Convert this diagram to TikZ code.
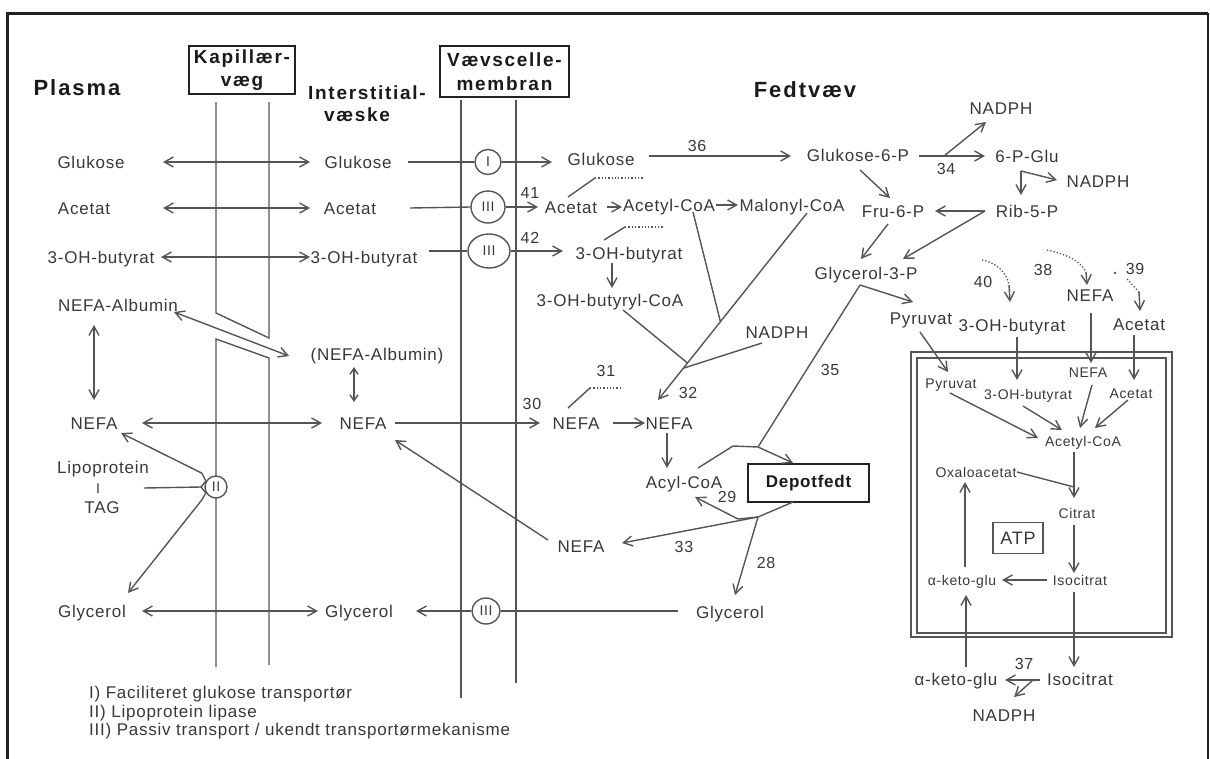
\documentclass[tikz,border=0pt]{standalone}
\usepackage{fontspec}
\setmainfont{Liberation Sans}
\newfontfamily\lblfont{Liberation Sans}[LetterSpace=4.5]
\newfontfamily\headfont{Liberation Sans}[LetterSpace=9]
\usetikzlibrary{arrows.meta,shapes.geometric}
\definecolor{ink}{HTML}{383838}
\definecolor{headink}{HTML}{1A1A1A}
\definecolor{wire}{HTML}{555555}
\definecolor{frame}{HTML}{222222}
\tikzset{
  barb/.tip={Straight Barb[length=9pt,width=10pt]},
  minibarb/.tip={Straight Barb[length=6pt,width=8pt]},
  lbl/.style={font=\lblfont\fontsize{17}{20}\selectfont, text=ink, inner sep=0pt, text height=12.2pt, text depth=0pt},
  inner/.style={font=\lblfont\fontsize{14}{17}\selectfont, text=ink, inner sep=0pt, text height=10pt, text depth=0pt},
  num/.style={font=\lblfont\fontsize{16}{19}\selectfont, text=ink, inner sep=0pt, text height=11.5pt, text depth=0pt},
  legend/.style={font=\lblfont\fontsize{17}{19}\selectfont, text=ink, inner sep=0pt, text height=12.2pt, text depth=0pt, anchor=west},
  head/.style={font=\headfont\bfseries\fontsize{19}{24}\selectfont, text=headink, inner sep=0pt, text height=13.7pt, text depth=0pt},
  bighead/.style={font=\headfont\bfseries\fontsize{22}{26}\selectfont, text=headink, inner sep=0pt, text height=15.8pt, text depth=0pt},
  headbox/.style={draw=frame, line width=1.3pt, font=\headfont\bfseries\fontsize{19}{23.5}\selectfont, text=headink, align=center, inner sep=0pt},
  port/.style={draw=wire, line width=1.4pt, ellipse, fill=white, inner sep=0pt, font=\lblfont\fontsize{14}{16}\selectfont, text=ink},
  wirel/.style={draw=wire, line width=1.4pt},
  arr/.style={wirel, -barb},
  darr/.style={wirel, barb-barb},
  sarr/.style={wirel, minibarb-minibarb},
  hint/.style={draw=wire, line width=1.3pt, dotted},
}
\begin{document}
\begin{tikzpicture}[x=1pt,y=-1pt]
\useasboundingbox (0,0) rectangle (1210,758);
% outer frame, open at the bottom
\draw[line width=3pt, frame] (7,775) -- (7,13) -- (1208,13);
\draw[line width=1.6pt, frame] (1208,13) -- (1208,775);

% capillary wall with its gap, and the cell membrane
\draw[wirel] (216,102) -- (216,313) -- (269,338) -- (269,102);
\draw[wirel] (216,667) -- (216,339) -- (269,358) -- (269,665);
\draw[wirel] (461,100) -- (461,698);
\draw[wirel] (516,100) -- (516,683);

% headings
\node[bighead] (plasma) at (77,88) {Plasma};
\node[headbox, minimum width=106pt, minimum height=48pt] (kap) at (242,70) {Kapillær-\\væg};
\node[head] (inter1) at (367,93) {Interstitial-};
\node[head] (inter2) at (357,115) {væske};
\node[headbox, minimum width=129pt, minimum height=51pt] (vaev) at (504.5,71.5) {Vævscelle-\\membran};
\node[bighead] (fedt) at (805,90) {Fedtvæv};

% plasma
\node[lbl] (pglu) at (91,162) {Glukose};
\node[lbl] (pace) at (84,208) {Acetat};
\node[lbl] (pbut) at (101,257) {3-OH-butyrat};
\node[lbl] (palb) at (118,305) {NEFA-Albumin};
\node[lbl] (pnefa) at (94,423) {NEFA};
\node[lbl] (plipo) at (103,467) {Lipoprotein};
\node[inner] (pbar) at (98,488) {I};
\node[lbl] (ptag) at (102,507) {TAG};
\node[lbl] (pgly) at (92,611) {Glycerol};

% interstitial fluid
\node[lbl] (iglu) at (358,162) {Glukose};
\node[lbl] (iace) at (350,208) {Acetat};
\node[lbl] (ibut) at (364,257) {3-OH-butyrat};
\node[lbl] (ialb) at (377,354) {(NEFA-Albumin)};
\node[lbl] (inefa) at (363,423) {NEFA};
\node[lbl] (igly) at (359,611) {Glycerol};

% transporters
\node[port, minimum width=26pt, minimum height=25pt] (t1) at (488,162) {I};
\node[port, minimum width=34pt, minimum height=32pt] (t2) at (488,207) {III};
\node[port, minimum width=42pt, minimum height=34pt] (t3) at (489,251) {III};
\node[port, minimum width=22pt, minimum height=22pt] (t4) at (216,487) {II};
\node[port, minimum width=28pt, minimum height=26pt] (t5) at (486,611) {III};

% adipose tissue
\node[lbl] (fglu) at (601,159) {Glukose};
\node[lbl] (fg6p) at (858,155) {Glukose-6-P};
\node[lbl] (nadph1) at (1001,108) {NADPH};
\node[lbl] (p6glu) at (1027,156) {6-P-Glu};
\node[lbl] (nadph2) at (1098,181) {NADPH};
\node[lbl] (rib) at (1027,211) {Rib-5-P};
\node[lbl] (fru) at (893,211) {Fru-6-P};
\node[lbl] (g3p) at (866,273) {Glycerol-3-P};
\node[lbl] (face) at (571,207) {Acetat};
\node[lbl] (acoa) at (669,205) {Acetyl-CoA};
\node[lbl] (malo) at (792,205) {Malonyl-CoA};
\node[lbl] (fbut) at (629,253) {3-OH-butyrat};
\node[lbl] (butcoa) at (610,300) {3-OH-butyryl-CoA};
\node[lbl] (nadph3) at (777,332) {NADPH};
\node[lbl] (fnefa1) at (576,423) {NEFA};
\node[lbl] (fnefa2) at (669,423) {NEFA};
\node[lbl] (acyl) at (684,482) {Acyl-CoA};
\node[draw=frame, line width=1.4pt, minimum width=121pt, minimum height=38pt, inner sep=0pt,
      font=\lblfont\bfseries\fontsize{17}{20}\selectfont, text=headink] (depot) at (808.5,483) {Depotfedt};
\node[lbl] (fnefa3) at (581,546) {NEFA};
\node[lbl] (fgly) at (730,612) {Glycerol};
\node[lbl] (pyr) at (921,318) {Pyruvat};
\node[lbl] (obut) at (1012,325) {3-OH-butyrat};
\node[lbl] (onefa) at (1090,295) {NEFA};
\node[lbl] (oace) at (1139,324) {Acetat};

% mitochondrion
\draw[wirel] (911,352) rectangle (1172,637);
\draw[wirel] (917,358) rectangle (1166,633);
\node[inner] (mpyr) at (951,383) {Pyruvat};
\node[inner] (mbut) at (1028,394) {3-OH-butyrat};
\node[inner] (mnefa) at (1088,372) {NEFA};
\node[inner] (mace) at (1131,393) {Acetat};
\node[inner] (macoa) at (1083,441) {Acetyl-CoA};
\node[inner] (oxa) at (976,472) {Oxaloacetat};
\node[inner] (cit) at (1077,513) {Citrat};
\node[draw=wire, line width=1.4pt, minimum width=50pt, minimum height=31pt, inner sep=0pt,
      font=\lblfont\fontsize{18}{21}\selectfont, text=ink] (atp) at (1018,538) {ATP};
\node[inner] (makg) at (962,580) {α-keto-glu};
\node[inner] (miso) at (1080,580) {Isocitrat};
\node[lbl] (oakg) at (956,679) {α-keto-glu};
\node[lbl] (oiso) at (1080,679) {Isocitrat};
\node[lbl] (nadph4) at (1004,715) {NADPH};

% reaction numbers
\node[num] (n41) at (530,193) {41};
\node[num] (n42) at (530,238) {42};
\node[num] (n36) at (697,146) {36};
\node[num] (n34) at (946,169) {34};
\node[num] (n40) at (983,282) {40};
\node[num] (n38) at (1043,270) {38};
\node[num] (n39) at (1135,269) {39};
\node[num] (n31) at (606,371) {31};
\node[num] (n30) at (532,404) {30};
\node[num] (n32) at (688,393) {32};
\node[num] (n35) at (830,370) {35};
\node[num] (n29) at (727,497) {29};
\node[num] (n33) at (684,547) {33};
\node[num] (n28) at (766,563) {28};
\node[num] (n37) at (1024,664) {37};

% legend
\node[legend] (leg1) at (89,692) {I) Faciliteret glukose transportør};
\node[legend] (leg2) at (89,711) {II) Lipoprotein lipase};
\node[legend] (leg3) at (89,729) {III) Passiv transport / ukendt transportørmekanisme};

% exchange between plasma and interstitial fluid
\draw[darr] ([shift={(72,0)}]pglu.center) -- ([shift={(-48,0)}]iglu.center);
\draw[darr] ([shift={(79,0)}]pace.center) -- ([shift={(-40,0)}]iace.center);
\draw[darr] ([shift={(60,0)}]pbut.center) -- ([shift={(-54,0)}]ibut.center);
\draw[darr] ([shift={(56,7)}]palb.center) -- ([shift={(-88,2)}]ialb.center);
\draw[darr] ([shift={(-24,20)}]palb.center) -- ([shift={(0,-23)}]pnefa.center);
\draw[sarr] ([shift={(-23,13)}]ialb.center) -- ([shift={(-9,-21)}]inefa.center);
\draw[darr] ([shift={(48,0)}]pnefa.center) -- ([shift={(-41,0)}]inefa.center);
\draw[darr] ([shift={(50,0)}]pgly.center) -- ([shift={(-41,0)}]igly.center);

% transport across the cell membrane
\draw[wirel] ([shift={(50,0)}]iglu.center) -- (t1.west);
\draw[arr] (t1.east) -- ([shift={(-49,3)}]fglu.center);
\draw[wirel] ([shift={(60,0)}]iace.center) -- (t2.west);
\draw[arr] (t2.east) -- ([shift={(-33,0)}]face.center);
\draw[wirel] ([shift={(65,-6)}]ibut.center) -- (t3.west);
\draw[arr] (t3.east) -- ([shift={(-66,-2)}]fbut.center);
\draw[arr] ([shift={(32,0)}]inefa.center) -- ([shift={(-36,0)}]fnefa1.center);
\draw[wirel] ([shift={(-52,-1)}]fgly.center) -- (t5.east);
\draw[arr] (t5.west) -- ([shift={(57,0)}]igly.center);
\draw[arr] ([shift={(-33,-6)}]fnefa3.center) -- ([shift={(32,17)}]inefa.center);

% lipoprotein lipase
\coordinate (wedge) at (201,487);
\draw[wirel] ([shift={(46,0)}]pbar.center) -- (wedge);
\draw[wirel] (t4.150) -- (wedge) -- (t4.210);
\draw[arr] (t4.150) -- ++(-4,-8) -- ([shift={(27,10)}]pnefa.center);
\draw[arr] (t4.210) -- ++(-4,7) -- ([shift={(36,-18)}]pgly.center);

% glucose metabolism
\draw[arr] ([shift={(48,-3)}]fglu.center) -- ([shift={(-67,1)}]fg6p.center);
\coordinate (j34) at (944,156);
\draw[arr] ([shift={(61,1)}]fg6p.center) -- ([shift={(-42,0)}]p6glu.center);
\draw[arr] (j34) -- ([shift={(-15,14)}]nadph1.center);
\coordinate (j6p) at (1021,171);
\draw[arr] (j6p) -- ([shift={(-6,-16)}]rib.center);
\draw[arr] (j6p) -- ([shift={(-41,-1)}]nadph2.center);
\draw[arr] ([shift={(-42,0)}]rib.center) -- ([shift={(42,0)}]fru.center);
\draw[arr] ([shift={(-42,0)}]rib.center) -- ([shift={(37,-14)}]g3p.center);
\draw[arr] ([shift={(2,15)}]fg6p.center) -- ([shift={(-3,-13)}]fru.center);
\draw[arr] ([shift={(-5,13)}]fru.center) -- ([shift={(-5,-14)}]g3p.center);
\coordinate (j35) at (860,285);
\draw[arr] (j35) -- ([shift={(-8,-16)}]pyr.center);

% fatty acid synthesis
\draw[arr] ([shift={(36,0)}]face.center) -- ([shift={(-47,2)}]acoa.center);
\draw[arr] ([shift={(47,0)}]acoa.center) -- ([shift={(-54,0)}]malo.center);
\draw[arr] ([shift={(-17,10)}]fbut.center) -- ([shift={(2,-12)}]butcoa.center);
\draw[arr] ([shift={(15,8)}]malo.center) -- ([shift={(-11,-23)}]fnefa2.center);
\coordinate (jac) at (720.5,322);
\coordinate (jbc) at (687.5,363);
\coordinate (jnc) at (684,368);
\draw[wirel] ([shift={(24,7)}]acoa.center) -- (jac);
\draw[wirel] ([shift={(13,10)}]butcoa.center) -- (jbc);
\draw[wirel] ([shift={(-15,11)}]nadph3.center) -- (jnc);

% side reactions (dotted)
\coordinate (m41) at (595,178);
\coordinate (m41e) at (643,178);
\draw[wirel] ([shift={(-3,-10)}]face.center) -- (m41);
\draw[hint] (m41) -- (m41e);
\coordinate (m42) at (625,227);
\coordinate (m42e) at (663,227);
\draw[wirel] ([shift={(-25,-13)}]fbut.center) -- (m42);
\draw[hint] (m42) -- (m42e);
\coordinate (m31) at (590,388);
\coordinate (m31e) at (623,388);
\draw[wirel] ([shift={(-8,-15)}]fnefa1.center) -- (m31);
\draw[hint] (m31) -- (m31e);

% esterification and lipolysis
\draw[arr] ([shift={(37,0)}]fnefa1.center) -- ([shift={(-24,0)}]fnefa2.center);
\draw[arr] ([shift={(-2,10)}]fnefa2.center) -- ([shift={(-17,-14)}]acyl.center);
\coordinate (jdep) at (758,447);
\coordinate (jbend) at (733,446);
\draw[wirel] (j35) -- (jdep);
\draw[arr] ([shift={(14,-14)}]acyl.center) -- (jbend) -- (jdep) -- ([shift={(-15.5,-20)}]depot.center);
\coordinate (jlip) at (758,517);
\coordinate (jlip2) at (738,519);
\draw[wirel] ([shift={(-15.5,19)}]depot.center) -- (jlip);
\draw[arr] (jlip) -- (jlip2) -- ([shift={(11,15)}]acyl.center);
\draw[arr] (jlip) -- ([shift={(41,-3)}]fnefa3.center);
\draw[arr] (jlip) -- ([shift={(5,-17)}]fgly.center);

% substrates entering the mitochondrion
\coordinate (d40a) at (982,260);
\coordinate (d40b) at (1009,285);
\draw[hint] (d40a) .. controls (995,262) and (1007,272) .. (d40b);
\draw[arr] (d40b) -- ([shift={(-2,-23)}]obut.center);
\coordinate (d38a) at (1047,250);
\coordinate (d38b) at (1086,272);
\draw[hint] (d38a) .. controls (1065,254) and (1080,260) .. (d38b);
\draw[arr] (d38b) -- ([shift={(-3,-10)}]onefa.center);
\fill[wire] (1115,273) circle (1.3pt);
\coordinate (d39a) at (1127,279);
\coordinate (d39b) at (1139,292);
\draw[hint] (d39a) -- (d39b);
\draw[arr] (d39b) -- ([shift={(1,-13)}]oace.center);
\draw[arr] ([shift={(1,18)}]onefa.center) -- ([shift={(3,-9)}]mnefa.center);
\draw[arr] ([shift={(-1,14)}]pyr.center) -- ([shift={(-3,-11)}]mpyr.center);
\draw[arr] ([shift={(5,12)}]obut.center) -- ([shift={(-11,-14)}]mbut.center);
\draw[arr] ([shift={(-5,11)}]oace.center) -- ([shift={(3,-13)}]mace.center);

% citric acid cycle
\draw[arr] ([shift={(-1,10)}]mpyr.center) -- ([shift={(-45,-3)}]macoa.center);
\draw[arr] ([shift={(-5,12)}]mbut.center) -- ([shift={(-21,-11)}]macoa.center);
\draw[arr] ([shift={(4,13)}]mnefa.center) -- ([shift={(-3,-13)}]macoa.center);
\draw[arr] ([shift={(-3,7)}]mace.center) -- ([shift={(12,-13)}]macoa.center);
\draw[arr] ([shift={(-9,11)}]macoa.center) -- ([shift={(-3,-15)}]cit.center);
\coordinate (joxa) at (1074,487);
\draw[wirel] ([shift={(41,0)}]oxa.center) -- (joxa);
\draw[arr] ([shift={(-3,12)}]cit.center) -- ([shift={(-6,-7)}]miso.center);
\draw[arr] ([shift={(-33,0)}]miso.center) -- ([shift={(40,0)}]makg.center);
\draw[arr] ([shift={(3,-13)}]makg.center) -- ([shift={(-11,10)}]oxa.center);
\draw[arr] ([shift={(-6,12)}]miso.center) -- ([shift={(-6,-12)}]oiso.center);
\draw[arr] ([shift={(10,-12)}]oakg.center) -- ([shift={(4,15)}]makg.center);
\coordinate (j37) at (1033,680);
\draw[arr] ([shift={(-40,1)}]oiso.center) -- ([shift={(49,1)}]oakg.center);
\draw[arr] (j37) -- ([shift={(10,-18)}]nadph4.center);
\end{tikzpicture}
\end{document}
